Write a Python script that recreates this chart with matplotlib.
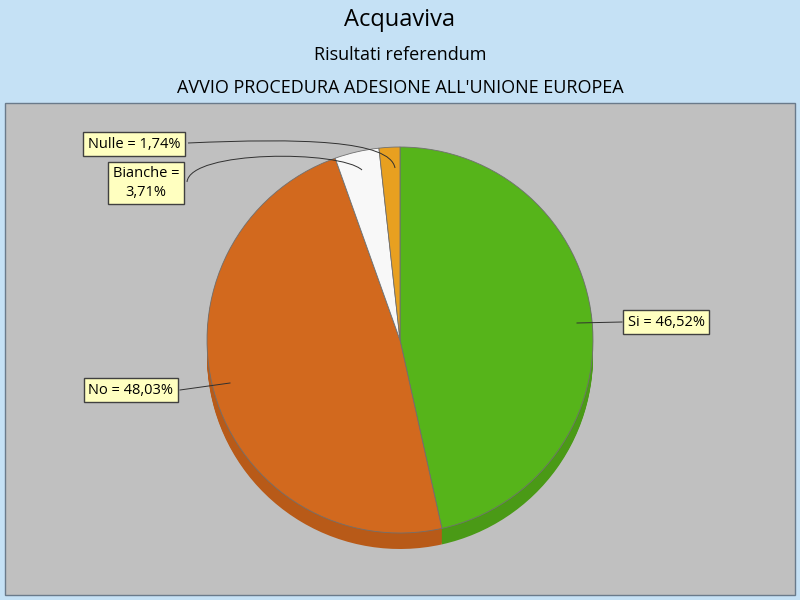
import matplotlib
matplotlib.use("Agg")
import matplotlib.pyplot as plt
from matplotlib.patches import Rectangle
from matplotlib.path import Path
from matplotlib.patches import PathPatch

plt.rcParams["font.family"] = ["Open Sans", "DejaVu Sans"]

labels = ["Si", "No", "Bianche", "Nulle"]
values = [46.52, 48.03, 3.71, 1.74]
label_texts = ["Si = 46,52%", "No = 48,03%", "Bianche =\n3,71%", "Nulle = 1,74%"]
colors = ["#56b41a", "#d2691e", "#f8f8f8", "#e8a020"]
dark = ["#4a9a16", "#b85a18", "#d8d8d8", "#c88818"]

fig = plt.figure(figsize=(8, 6), dpi=100, facecolor="#c5e1f5")
ax = fig.add_axes([0, 0, 1, 1])

H = 600
def Y(y): return H - y

ax.add_patch(Rectangle((5, Y(595)), 790, 492, facecolor="#c0c0c0",
                       edgecolor="#6a7a8a", lw=1))

fig.text(0.5, 1 - 20/600, "Acquaviva", ha="center", va="center", fontsize=17)
fig.text(0.5, 1 - 55/600, "Risultati referendum", ha="center", va="center", fontsize=13)
fig.text(0.5, 1 - 88/600, "AVVIO PROCEDURA ADESIONE ALL'UNIONE EUROPEA",
         ha="center", va="center", fontsize=13)

cx, cy, r = 400, 340, 193
# side / depth
for d in range(16, 0, -1):
    ax.pie(values, colors=dark, startangle=90, counterclock=False,
           center=(cx, Y(cy + d)), radius=r, frame=True,
           wedgeprops=dict(lw=0))
ax.pie(values, colors=colors, startangle=90, counterclock=False,
       center=(cx, Y(cy)), radius=r, frame=True,
       wedgeprops=dict(lw=0.6, edgecolor="#707070"))
ax.set_xlim(0, 800); ax.set_ylim(0, 600)
ax.set_aspect("equal"); ax.axis("off")

box = dict(boxstyle="square,pad=0.3", fc="#ffffc0", ec="#404040", lw=1)
ax.text(666, Y(322), label_texts[0], ha="center", va="center", fontsize=10.5, bbox=box)
ax.plot([577, 622], [Y(323), Y(322)], color="#303030", lw=0.7)
ax.text(131, Y(390), label_texts[1], ha="center", va="center", fontsize=10.5, bbox=box)
ax.plot([230, 180], [Y(383), Y(390)], color="#303030", lw=0.7)
ax.text(146, Y(183), label_texts[2], ha="center", va="center", fontsize=10.5,
        bbox=box, linespacing=1.3)
ax.text(134, Y(144), label_texts[3], ha="center", va="center", fontsize=10.5, bbox=box)

def curve(pts):
    verts = [(x, Y(y)) for x, y in pts]
    ax.add_patch(PathPatch(Path(verts, [Path.MOVETO, Path.CURVE4, Path.CURVE4, Path.CURVE4]),
                           fc="none", ec="#303030", lw=0.7))
curve([(188, 143), (300, 138), (390, 140), (395, 168)])
curve([(187, 182), (190, 150), (340, 150), (362, 170)])

fig.savefig("out.png", dpi=100, facecolor=fig.get_facecolor())
